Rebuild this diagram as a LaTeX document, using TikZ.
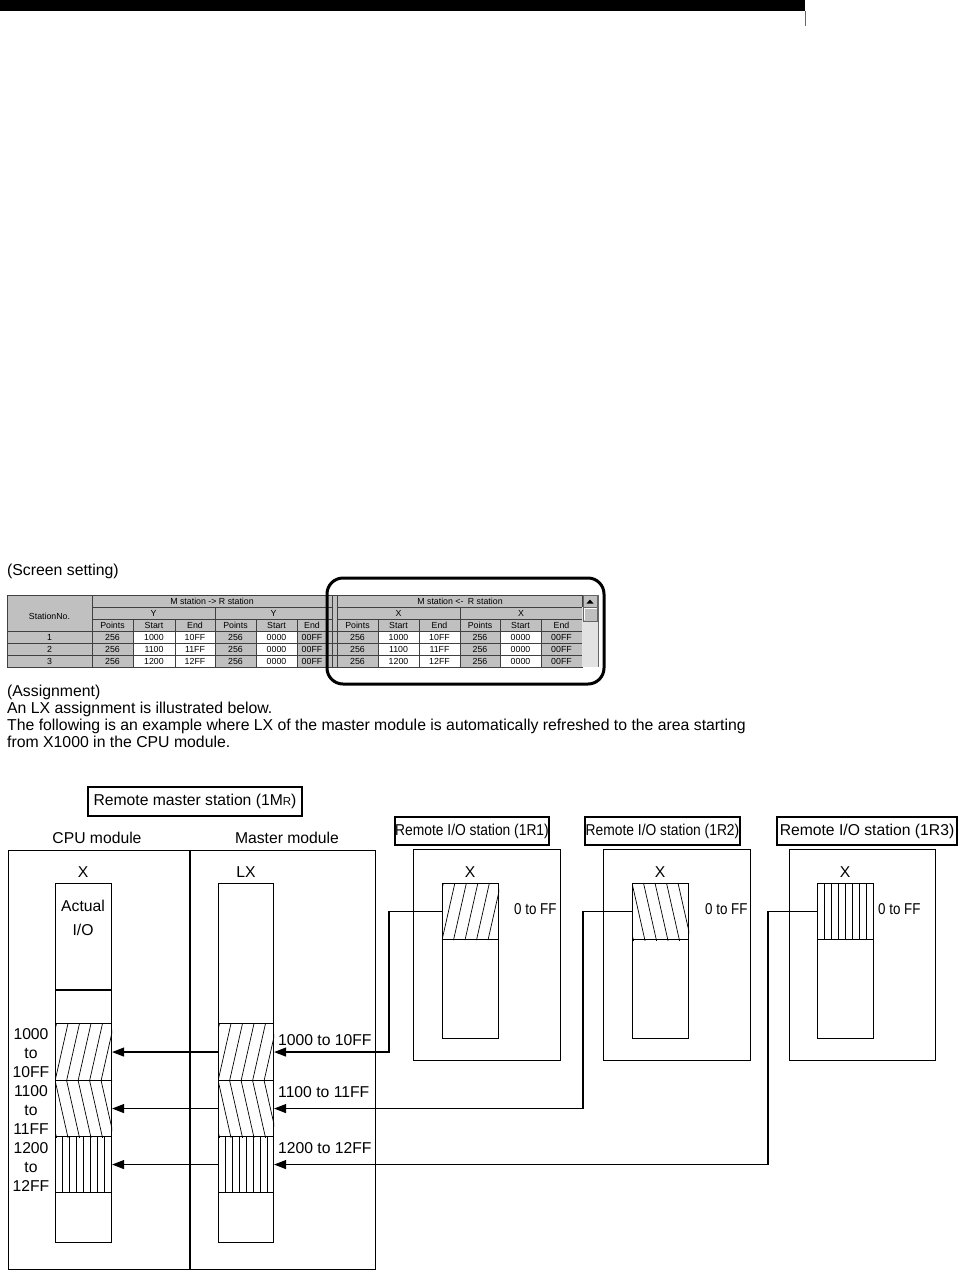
\documentclass[tikz,border=0pt]{standalone}
\usepackage{fontspec}
\setmainfont{Liberation Sans}
\usetikzlibrary{arrows.meta}
\definecolor{wingray}{RGB}{192,192,192}
\definecolor{dither}{RGB}{226,226,226}
\newcommand\hatchR[1]{%
  \begin{scope}\clip (#1.south west) rectangle (#1.north east);
  \foreach \k in {-2,...,6} \draw[hatch] ([xshift=\k*11.5pt]#1.south west) -- ++(14,-62);
  \end{scope}}
\newcommand\hatchL[1]{%
  \begin{scope}\clip (#1.south west) rectangle (#1.north east);
  \foreach \k in {-2,...,6} \draw[hatch] ([xshift=\k*11.5pt]#1.north west) -- ++(14,62);
  \end{scope}}
\newcommand\hatchV[1]{%
  \foreach \k in {1,...,7} \draw[hatch] ([xshift=\k*7pt]#1.north west) -- ([xshift=\k*7pt]#1.south west);}
\begin{document}
\begin{tikzpicture}[x=1pt,y=-1pt,
  txt/.style={font=\fontsize{15.7}{18}\selectfont, inner sep=0pt},
  para/.style={font=\fontsize{15.8}{18}\selectfont, inner sep=0pt, anchor=base west},
  cell/.style={font=\fontsize{8.8}{10}\selectfont, inner sep=0pt},
  grid/.style={draw=black!75, line width=0.7pt},
  box/.style={draw, line width=1.4pt, inner sep=0pt},
  col/.style={draw, line width=1.1pt, inner sep=0pt, anchor=north west},
  lblbox/.style={draw, line width=1.1pt, inner sep=0pt, font=\fontsize{15.7}{18}\selectfont},
  hatch/.style={line width=0.7pt},
  arr/.style={line width=1.2pt, -{Triangle[length=12pt,width=9pt]}}
]
\useasboundingbox (0,0) rectangle (959,1272);
% top bar
\fill (0,0) rectangle (805,11);
\draw[line width=0.5pt, black!60] (805,11) -- (805,26);

% texts
\node[para] (scr) at (7,575) {(Screen setting)};
\node[para] (asg) at (7,696) {(Assignment)};
\node[para] (ln1) at (7,713) {An LX assignment is illustrated below.};
\node[para] (ln2) at (7,730) {The following is an example where LX of the master module is automatically refreshed to the area starting};
\node[para] (ln3) at (7,747) {from X1000 in the CPU module.};

% ---------- table ----------
\fill[wingray] (7,595) rectangle (598,667);
\foreach \xa/\xb in {133/175,175/215,256/297,378/419,419/460,500/541}
  \fill[white] (\xa,631) rectangle (\xb,667);
\draw[grid] (7,595) rectangle (582,667);
\foreach \y in {607,619} \draw[grid] (92,\y) -- (332,\y) (337,\y) -- (582,\y);
\foreach \y in {631,643,655} \draw[grid] (7,\y) -- (582,\y);
\foreach \x in {92,332,337} \draw[grid] (\x,595) -- (\x,667);
\foreach \x in {215,460} \draw[grid] (\x,607) -- (\x,667);
\foreach \x in {133,175,256,297,378,419,500,541} \draw[grid] (\x,619) -- (\x,667);
% scrollbar
\fill[dither] (582,607) rectangle (598,667);
\filldraw[fill=wingray, draw=black!60, line width=0.5pt] (583,595.5) rectangle (597.5,607);
\fill (586.5,603.5) -- (593.5,603.5) -- (590,599.5) -- cycle;
\filldraw[fill=wingray, draw=black!60, line width=0.5pt] (583,607) rectangle (597.5,621);
\draw[white, line width=0.6pt] (584,620) -- (584,608) -- (596.5,608);
\draw[black!60, line width=0.5pt] (598,595) -- (598,667);
% header texts
\node[cell] (stn) at (49.5,616) {StationNo.};
\node[cell] (hm1) at (212,601) {M station -> R station};
\node[cell] (hm2) at (460,601) {M station <-\hspace{0.5em}R station};
\node[cell] (hy1) at (153.5,613) {Y};
\node[cell] (hy2) at (273.5,613) {Y};
\node[cell] (hx1) at (398.5,613) {X};
\node[cell] (hx2) at (521,613) {X};
\foreach \cx/\t [count=\i] in {112.5/Points,154/Start,195/End,235.5/Points,276.5/Start,312/End,357.5/Points,398.5/Start,439.5/End,480/Points,520.5/Start,561.5/End}
  \node[cell] (ph\i) at (\cx,625) {\t};
\foreach \r/\y/\s/\e in {1/637/1000/10FF,2/649/1100/11FF,3/661/1200/12FF}{
  \node[cell] (no\r) at (49.5,\y) {\r};
  \node[cell] (pa\r) at (112.5,\y) {256};
  \node[cell] (sa\r) at (154,\y) {\s};
  \node[cell] (ea\r) at (195,\y) {\e};
  \node[cell] (pb\r) at (235.5,\y) {256};
  \node[cell] (sb\r) at (276.5,\y) {0000};
  \node[cell] (eb\r) at (312,\y) {00FF};
  \node[cell] (pc\r) at (357.5,\y) {256};
  \node[cell] (sc\r) at (398.5,\y) {\s};
  \node[cell] (ec\r) at (439.5,\y) {\e};
  \node[cell] (pd\r) at (480,\y) {256};
  \node[cell] (sd\r) at (520.5,\y) {0000};
  \node[cell] (ed\r) at (561.5,\y) {00FF};
}
\draw[line width=3pt, rounded corners=16pt] (327,578) rectangle (604,684);

% ---------- diagram ----------
\node[lblbox, minimum width=214pt, minimum height=29pt] (rms) at (195,801.5)
  {Remote master station (1M{\fontsize{11.5}{12}\selectfont R})};
\node[txt, anchor=base] (cpul) at (97,843) {CPU module};
\node[txt, anchor=base] (masl) at (287,843) {Master module};
\node[box, minimum width=367pt, minimum height=419pt, anchor=north west] (rm) at (8,850) {};
\coordinate (dvt) at (190,850);
\coordinate (dvb) at (190,1269);
\draw[line width=1.4pt] (dvt) -- (dvb);

\node[txt, anchor=base] (xl) at (83,877) {X};
\node[txt, anchor=base] (lxl) at (246,877) {LX};
\node[col, minimum width=56pt, minimum height=359pt] (cpu) at (55,883) {};
\node[col, minimum width=55pt, minimum height=359pt] (lx) at (218,883) {};
\coordinate (aiw) at (55,990);
\coordinate (aie) at (111,990);
\draw[line width=1.1pt] (aiw) -- (aie);
\node[txt, anchor=base] (act) at (83,911) {Actual};
\node[txt, anchor=base] (aio) at (83,935) {I/O};

\node[col, minimum width=56pt, minimum height=57pt] (c1) at (55,1023) {};
\node[col, minimum width=56pt, minimum height=56pt] (c2) at (55,1080) {};
\node[col, minimum width=56pt, minimum height=56pt] (c3) at (55,1136) {};
\node[col, minimum width=55pt, minimum height=57pt] (m1) at (218,1023) {};
\node[col, minimum width=55pt, minimum height=56pt] (m2) at (218,1080) {};
\node[col, minimum width=55pt, minimum height=56pt] (m3) at (218,1136) {};
\hatchR{c1}\hatchL{c2}\hatchV{c3}
\hatchR{m1}\hatchL{m2}\hatchV{m3}

\foreach \t [count=\i from 0] in {1000,to,10FF,1100,to,11FF,1200,to,12FF}
  \node[txt, anchor=base] (al\i) at (31,1039+19*\i) {\t};
\node[txt, anchor=base west] (rl1) at (278,1045) {1000 to 10FF};
\node[txt, anchor=base west] (rl2) at (278,1097) {1100 to 11FF};
\node[txt, anchor=base west] (rl3) at (278,1153) {1200 to 12FF};

% remote stations
\node[lblbox, minimum width=154pt, minimum height=28pt] (l1) at (472,831)
  {\scalebox{0.88}[1]{Remote I/O station (1R1)}};
\node[lblbox, minimum width=155pt, minimum height=28pt] (l2) at (662.5,831)
  {\scalebox{0.88}[1]{Remote I/O station (1R2)}};
\node[lblbox, minimum width=180pt, minimum height=28pt] (l3) at (867,831)
  {Remote I/O station (1R3)};

\node[box, minimum width=147pt, minimum height=211pt, anchor=north west] (s1) at (413,849) {};
\node[box, minimum width=147pt, minimum height=211pt, anchor=north west] (s2) at (603,849) {};
\node[box, minimum width=146pt, minimum height=211pt, anchor=north west] (s3) at (789,849) {};

\node[col, minimum width=56pt, minimum height=155pt] (r1c) at (442,883) {};
\node[col, minimum width=56pt, minimum height=155pt] (r2c) at (632,883) {};
\node[col, minimum width=56pt, minimum height=155pt] (r3c) at (817,883) {};
\node[col, minimum width=56pt, minimum height=56pt] (r1) at (442,883) {};
\node[col, minimum width=56pt, minimum height=56pt] (r2) at (632,883) {};
\node[col, minimum width=56pt, minimum height=56pt] (r3) at (817,883) {};
\hatchR{r1}\hatchL{r2}\hatchV{r3}

\node[txt, anchor=base] (x1) at (470,877) {X};
\node[txt, anchor=base] (x2) at (660,877) {X};
\node[txt, anchor=base] (x3) at (845,877) {X};
\node[txt, anchor=base west] (f1) at (514,914) {\scalebox{0.85}[1]{0 to FF}};
\node[txt, anchor=base west] (f2) at (705,914) {\scalebox{0.85}[1]{0 to FF}};
\node[txt, anchor=base west] (f3) at (878,914) {\scalebox{0.85}[1]{0 to FF}};

% connectors
\draw[arr] (m1.west) -- (c1.east);
\draw[arr] (m2.west) -- (c2.east);
\draw[arr] (m3.west) -- (c3.east);
\draw[arr] (r1.west) -- ++(-53,0) |- (m1.east);
\draw[arr] (r2.west) -- ++(-49,0) |- (m2.east);
\draw[arr] (r3.west) -- ++(-49,0) |- (m3.east);
\end{tikzpicture}
\end{document}
